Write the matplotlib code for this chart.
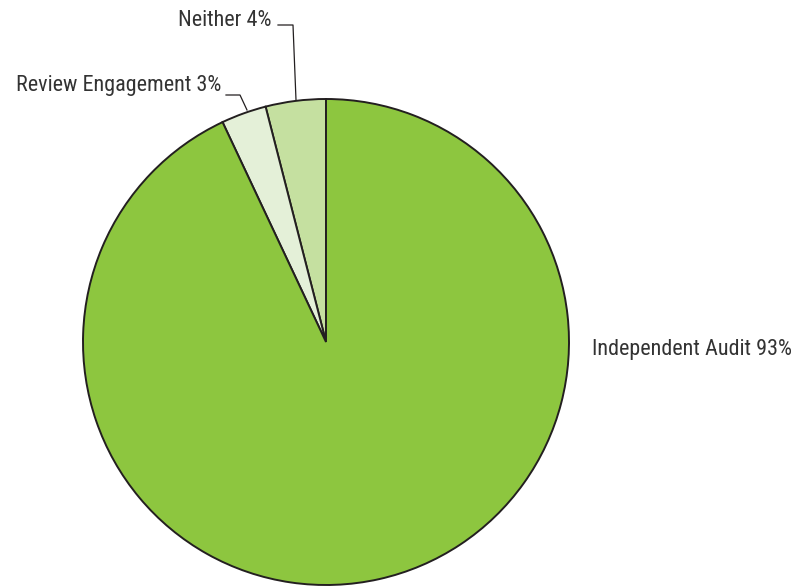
import matplotlib
matplotlib.use("Agg")
import matplotlib.pyplot as plt
from matplotlib import font_manager

labels = ["Neither", "Review Engagement", "Independent Audit"]
shares = [4, 3, 93]
colors = ["#c5e0a0", "#e4f0d8", "#8dc63f"]

names = {f.name for f in font_manager.fontManager.ttflist}
family = [n for n in ["Roboto Condensed", "Liberation Sans Narrow", "Roboto"] if n in names] + ["DejaVu Sans"]

W, H = 795, 586
fig = plt.figure(figsize=(W / 100, H / 100), dpi=100)
ax = fig.add_axes([0, 0, 1, 1])

cx, cy, r = 326, H - 342, 243
ax.pie(shares, colors=colors, startangle=90, counterclock=True,
       center=(cx, cy), radius=r, frame=True,
       wedgeprops=dict(edgecolor="#231f20", linewidth=1.4))
ax.set_xlim(0, W)
ax.set_ylim(0, H)
ax.set_aspect("equal")
ax.axis("off")

text_kw = dict(fontsize=15.9, color="#333333", family=family)
line_kw = dict(color="#231f20", linewidth=0.9)

# Neither label with elbow leader
ax.text(272, H - 20, f"{labels[0]} {shares[0]}%", ha="right", va="center", **text_kw)
ax.plot([278, 293, 296], [H - 25, H - 25, H - 100], **line_kw)

# Review Engagement label with elbow leader
ax.text(221, H - 85, f"{labels[1]} {shares[1]}%", ha="right", va="center", **text_kw)
ax.plot([226, 240, 247], [H - 95, H - 95, H - 110], **line_kw)

# Independent Audit label
ax.text(592, H - 349, f"{labels[2]} {shares[2]}%", ha="left", va="center", **text_kw)

fig.savefig("out.png", dpi=100)
